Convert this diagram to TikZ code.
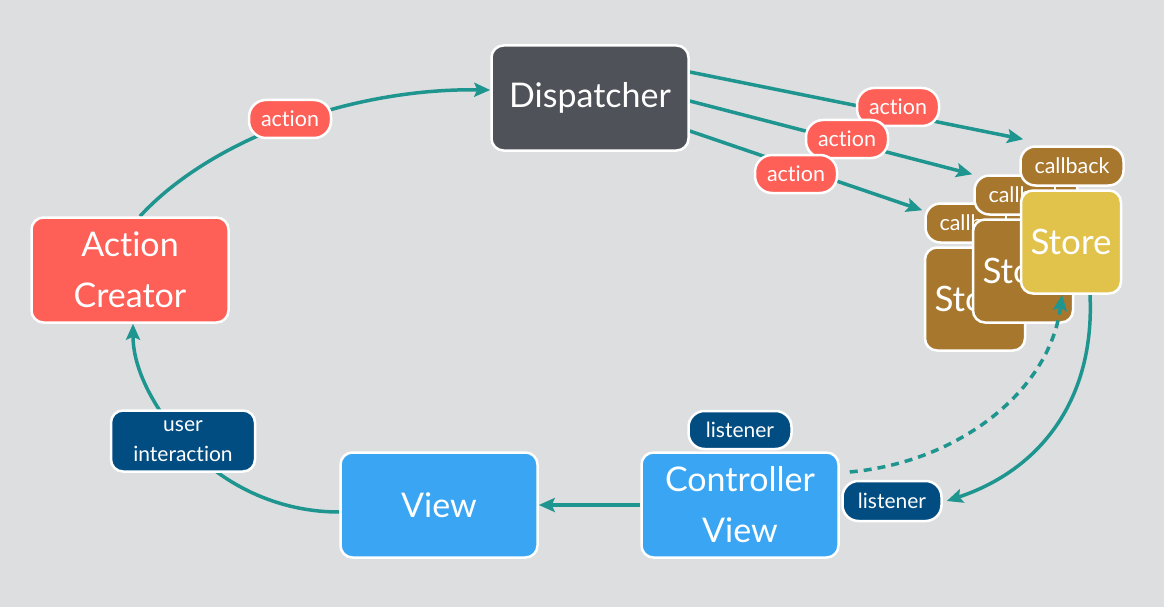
\documentclass[tikz,border=0pt]{standalone}
\usepackage{fontspec}
\setmainfont{Lato}[Ligatures=NoCommon]
\usetikzlibrary{arrows.meta}
\pgfdeclarelayer{bg}
\pgfdeclarelayer{lines}
\pgfsetlayers{bg,lines,main}
\definecolor{bgc}{HTML}{DDDEE0}
\definecolor{dispc}{HTML}{4F5258}
\definecolor{acc}{HTML}{FE5F57}
\definecolor{viewc}{HTML}{3AA6F3}
\definecolor{darkb}{HTML}{014D82}
\definecolor{brownc}{HTML}{A8772E}
\definecolor{yelc}{HTML}{E1C24B}
\definecolor{arrc}{HTML}{1F9590}
\tikzset{
  box/.style={draw=white, line width=2.5pt, rounded corners=12pt, text=white, align=center, inner sep=0pt},
  big/.style={box, minimum width=197pt, minimum height=105pt, font=\fontsize{34}{51}\selectfont},
  storebox/.style={box, fill=#1, minimum width=100pt, minimum height=103pt, font=\fontsize{35}{40}\selectfont},
  cbbox/.style={box, fill=brownc, minimum width=103pt, minimum height=39pt, rounded corners=15pt, font=\fontsize{21.5}{24}\selectfont},
  actlbl/.style={box, fill=acc, minimum width=82pt, minimum height=38pt, rounded corners=17pt, font=\fontsize{21.5}{24}\selectfont},
  lstlbl/.style={box, fill=darkb, minimum height=38pt, rounded corners=16pt, font=\fontsize{21}{24}\selectfont},
  conn/.style={draw=arrc, line width=3.5pt, -{Stealth[length=16pt,width=14pt,inset=3pt]}}
}
\begin{document}
\begin{tikzpicture}[x=1pt,y=-1pt]
\begin{pgfonlayer}{bg}
\fill[bgc] (0,0) rectangle (1164,607);
\end{pgfonlayer}
% main nodes
\node[big, fill=dispc] (disp) at (590,98) {Dispatcher};
\node[big, fill=acc] (ac) at (130,270) {Action\\Creator};
\node[big, fill=viewc] (view) at (439,505) {View};
\node[big, fill=viewc] (cv) at (740,505) {Controller\\View};
% stores
\node[cbbox] (cb3) at (977,223) {callback};
\node[storebox=brownc] (st3) at (975,299) {Store};
\node[cbbox] (cb2) at (1026,195) {callback};
\node[storebox=brownc] (st2) at (1023,271) {Store};
\node[cbbox] (cb1) at (1072,166) {callback};
\node[storebox=yelc] (st1) at (1071,242) {Store};
% labels
\node[actlbl] (a0) at (290,119) {action};
\node[actlbl] (a1) at (898,107) {action};
\node[actlbl] (a2) at (847,139) {action};
\node[actlbl] (a3) at (796,174) {action};
\node[box, fill=darkb, minimum width=144pt, minimum height=61pt, font=\fontsize{21}{30}\selectfont] (ui) at (183,441) {user\\interaction};
\node[lstlbl, minimum width=103pt] (lst1) at (740,430) {listener};
\node[lstlbl, minimum width=99pt, minimum height=40pt] (lst2) at (892,501) {listener};
% connectors
\begin{pgfonlayer}{lines}
\draw[conn] ([xshift=10pt]ac.north) .. controls (210,140) and (350,88) .. ([yshift=8pt]disp.west);
\draw[conn] ([yshift=26pt]disp.east) -- ([xshift=4pt,yshift=6pt]cb1.north west);
\draw[conn] ([yshift=-3pt]disp.east) -- ([xshift=-1pt]cb2.north west);
\draw[conn] ([yshift=-33pt]disp.east) -- ([xshift=-2pt,yshift=-8pt]cb3.north west);
\draw[conn] ([xshift=19pt]st1.south) .. controls (1095,400) and (1040,470) .. ([xshift=4pt]lst2.east);
\draw[conn] (cv.west) -- (view.east);
\draw[conn] ([yshift=-7pt]view.west) .. controls (270,512) and (215,478) .. (ui.center) .. controls (155,409) and (133,370) .. ([xshift=3pt]ac.south);
\end{pgfonlayer}
\draw[conn, dash pattern=on 8pt off 6pt] ([xshift=10pt,yshift=33pt]cv.east) .. controls (960,462) and (1050,390) .. ([xshift=-9pt]st1.south);
\end{tikzpicture}
\end{document}
